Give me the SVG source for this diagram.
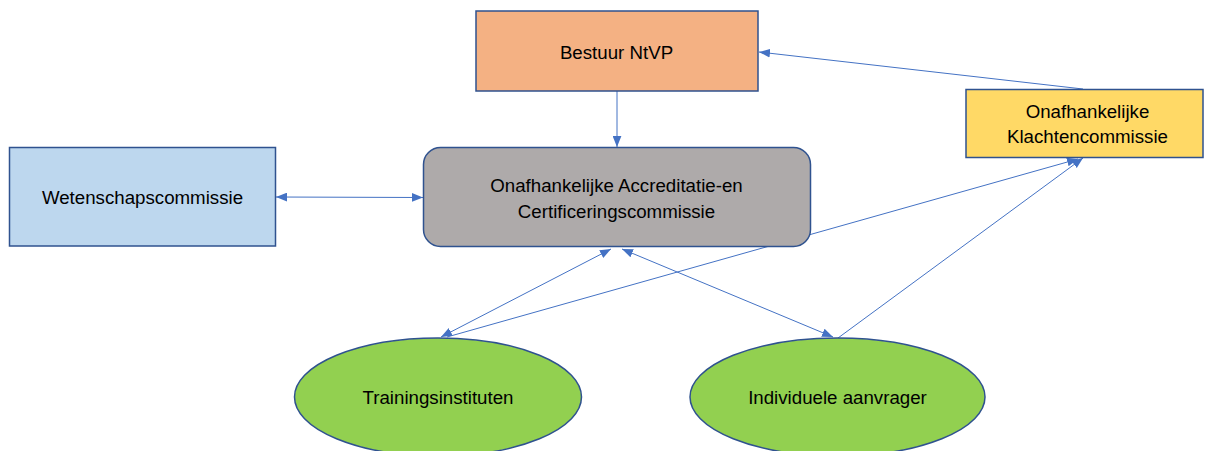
<svg xmlns="http://www.w3.org/2000/svg" width="1205" height="451" viewBox="0 0 1205 451">
<style>
.box{stroke:#2F528F;stroke-width:1.5}
.lbl{font-family:"Liberation Sans",Arial,sans-serif;font-size:18.7px;fill:#000;text-anchor:middle}
.con{stroke:#4472C4;stroke-width:1;fill:none;marker-end:url(#ah)}
.dbl{marker-start:url(#ah)}
</style>
<defs>
<marker id="ah" viewBox="0 0 10 8" refX="10" refY="4" markerWidth="11" markerHeight="9" markerUnits="userSpaceOnUse" orient="auto-start-reverse">
<path d="M0,0 L10,4 L0,8 z" fill="#4472C4"/>
</marker>
</defs>
<rect width="1205" height="451" fill="#fff"/>
<g id="connectors">
<line class="con" x1="617" y1="91" x2="617" y2="147"/>
<line class="con dbl" x1="276" y1="197" x2="423" y2="197.5"/>
<line class="con dbl" x1="611" y1="249" x2="441" y2="337"/>
<line class="con dbl" x1="622" y1="249" x2="833" y2="337"/>
<line class="con" x1="447" y1="337" x2="1078" y2="159"/>
<line class="con" x1="838" y1="338" x2="1083" y2="158"/>
<line class="con" x1="1083" y1="89" x2="759" y2="52"/>
</g>
<g id="bestuur">
<rect class="box" x="476" y="11" width="282" height="80" fill="#F4B183"/>
<text class="lbl" x="616.5" y="58.5">Bestuur NtVP</text>
</g>
<g id="accreditatie">
<rect class="box" x="423.5" y="147.5" width="387" height="99" rx="17" fill="#AEAAAA"/>
<text class="lbl" x="616.5" y="191.5">Onafhankelijke Accreditatie-en</text>
<text class="lbl" x="616.5" y="217.5">Certificeringscommissie</text>
</g>
<g id="wetenschap">
<rect class="box" x="9.5" y="147.5" width="266" height="98.5" fill="#BDD7EE"/>
<text class="lbl" x="142.5" y="203.5">Wetenschapscommissie</text>
</g>
<g id="klachten">
<rect class="box" x="966" y="89.5" width="237" height="68" fill="#FFD966"/>
<text class="lbl" x="1087.5" y="118">Onafhankelijke</text>
<text class="lbl" x="1087.5" y="143">Klachtencommissie</text>
</g>
<g id="trainingsinstituten">
<ellipse class="box" cx="438" cy="397" rx="143.5" ry="59" fill="#92D050"/>
<text class="lbl" x="438" y="403.5">Trainingsinstituten</text>
</g>
<g id="individuele">
<ellipse class="box" cx="837.5" cy="397" rx="147.5" ry="59" fill="#92D050"/>
<text class="lbl" x="837.5" y="403.5">Individuele aanvrager</text>
</g>
</svg>
